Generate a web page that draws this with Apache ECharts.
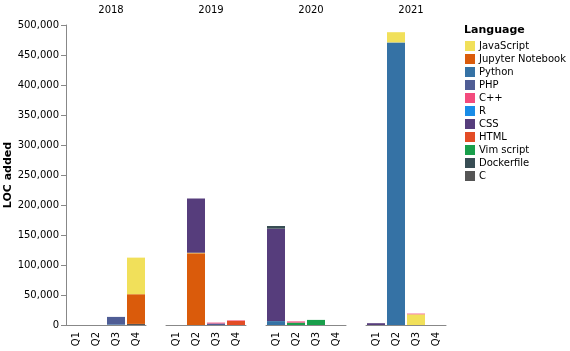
<!DOCTYPE html>
<html>
<head>
<meta charset="utf-8">
<script src="https://cdn.jsdelivr.net/npm/echarts@6/dist/echarts.min.js"></script>
<style>
  body { margin: 0; background: #fff; }
  #container { width: 570px; height: 351px; }
</style>
</head>
<body>
<div id="container"></div>
<script>
// facets and quarters
var years = ['2018', '2019', '2020', '2021'];
var quarters = ['Q1', 'Q2', 'Q3', 'Q4'];

// legend order
var legendOrder = ['JavaScript', 'Jupyter Notebook', 'Python', 'PHP', 'C++', 'R', 'CSS', 'HTML', 'Vim script', 'Dockerfile', 'C'];

// stack order, bottom to top
var stackOrder = ['C', 'Python', 'PHP', 'Jupyter Notebook', 'JavaScript', 'CSS', 'HTML', 'Vim script', 'Dockerfile', 'C++', 'R'];

var colors = {
    'JavaScript': '#f1e05a',
    'Jupyter Notebook': '#da5b0b',
    'Python': '#3572a5',
    'PHP': '#4f5d95',
    'C++': '#f34b7d',
    'R': '#198ce7',
    'CSS': '#563d7c',
    'HTML': '#e34c26',
    'Vim script': '#199f4b',
    'Dockerfile': '#384d54',
    'C': '#555555'
};

// LOC added per language: 2018 Q1-Q4, 2019 Q1-Q4, 2020 Q1-Q4, 2021 Q1-Q4
var locJavaScript = [0, 0, 0, 61000,   0, 1000, 0, 0,      0, 0, 0, 0,          0, 17000, 17800, 0];
var locJupyter    = [0, 0, 0, 49500,   0, 119500, 0, 0,    0, 0, 0, 0,          0, 0, 0, 0];
var locPython     = [0, 0, 1000, 0,    0, 0, 0, 0,         6500, 0, 0, 0,       0, 471000, 0, 0];
var locPHP        = [0, 0, 12500, 0,   0, 0, 2500, 0,      0, 0, 0, 0,          0, 0, 0, 0];
var locCpp        = [0, 0, 0, 0,       0, 0, 1500, 800,    0, 2000, 0, 0,       0, 0, 1200, 0];
var locR          = [0, 0, 0, 0,       0, 0, 0, 0,         0, 0, 0, 0,          0, 0, 0, 0];
var locCSS        = [0, 0, 0, 0,       0, 90500, 0, 0,     154000, 0, 0, 0,     3000, 0, 0, 0];
var locHTML       = [0, 0, 0, 0,       0, 0, 0, 7000,      0, 0, 0, 0,          0, 0, 0, 0];
var locVim        = [0, 0, 0, 0,       0, 0, 0, 0,         0, 4000, 8500, 0,    0, 0, 0, 0];
var locDocker     = [0, 0, 0, 0,       0, 0, 0, 0,         4500, 0, 0, 0,       0, 0, 0, 0];
var locC          = [0, 0, 0, 1800,    0, 0, 0, 0,         0, 0, 0, 0,          0, 0, 0, 0];

var locByLang = {
    'JavaScript': locJavaScript,
    'Jupyter Notebook': locJupyter,
    'Python': locPython,
    'PHP': locPHP,
    'C++': locCpp,
    'R': locR,
    'CSS': locCSS,
    'HTML': locHTML,
    'Vim script': locVim,
    'Dockerfile': locDocker,
    'C': locC
};

var yTicks = { min: 0, max: 500000, interval: 50000 };

var font = 'DejaVu Sans, sans-serif';
var grids = [], xAxes = [], yAxes = [], titles = [], series = [];

for (var i = 0; i < years.length; i++) {
    var left = 66 + i * 100;
    grids.push({ left: left, top: 25, width: 80, height: 300 });
    titles.push({
        text: years[i], left: left + 40, top: 0, textAlign: 'center',
        textStyle: { fontFamily: font, fontSize: 10, fontWeight: 'normal', color: '#000' }
    });
    xAxes.push({
        type: 'category', gridIndex: i, data: quarters,
        axisLine: { lineStyle: { color: '#888' } },
        axisTick: { alignWithLabel: true, length: 5, lineStyle: { color: '#888' } },
        axisLabel: { rotate: 90, fontSize: 10, fontFamily: font, color: '#000', margin: 7 }
    });
    yAxes.push({
        type: 'value', gridIndex: i, min: yTicks.min, max: yTicks.max, interval: yTicks.interval,
        show: i === 0,
        name: i === 0 ? 'LOC added' : '',
        nameLocation: 'middle', nameRotate: 90, nameGap: 45,
        nameTextStyle: { fontFamily: font, fontSize: 11, fontWeight: 'bold', color: '#000' },
        splitLine: { show: false },
        axisLine: { show: true, lineStyle: { color: '#888' } },
        axisTick: { show: true, length: 5, lineStyle: { color: '#888' } },
        axisLabel: {
            fontSize: 10, fontFamily: font, color: '#000', margin: 7,
            formatter: function (v) { return v.toLocaleString('en-US'); }
        }
    });
    stackOrder.forEach(function (lang) {
        series.push({
            name: lang, type: 'bar', stack: 'y' + i,
            xAxisIndex: i, yAxisIndex: i, barWidth: 18,
            itemStyle: { color: colors[lang] },
            data: locByLang[lang].slice(i * 4, i * 4 + 4)
        });
    });
}

titles.push({
    text: 'Language', left: 459, top: 20,
    textStyle: { fontFamily: font, fontSize: 11, fontWeight: 'bold', color: '#000' }
});

var myChart = echarts.init(document.getElementById('container'));
myChart.setOption({
    animation: false,
    title: titles,
    grid: grids,
    xAxis: xAxes,
    yAxis: yAxes,
    legend: {
        data: legendOrder, orient: 'vertical', left: 460, top: 36,
        icon: 'rect', itemWidth: 10, itemHeight: 10, itemGap: 3,
        selectedMode: false,
        textStyle: { fontFamily: font, fontSize: 10, color: '#000', padding: [0, 0, 0, -1] }
    },
    series: series
});
</script>
</body>
</html>
